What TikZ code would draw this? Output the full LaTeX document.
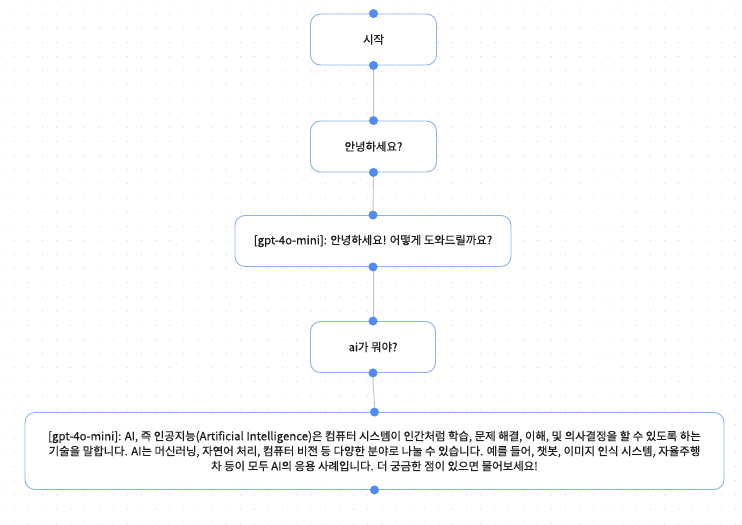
\documentclass[tikz,border=0pt]{standalone}
\usepackage{fontspec}
\setmainfont{Noto Sans CJK KR}[FakeBold=0.35]
\definecolor{boxblue}{HTML}{8AB0F7}
\definecolor{handleblue}{HTML}{4F8BF2}
\definecolor{edgegray}{HTML}{C4C4C4}
\definecolor{dotgray}{HTML}{D4D4D4}
\definecolor{txt}{HTML}{1E1E1E}
\begin{document}
\begin{tikzpicture}[x=1pt,y=-1pt,
  flowbox/.style={draw=boxblue, line width=0.9pt, rounded corners=10pt, fill=white,
    minimum height=51pt, align=center, inner sep=0pt, text=txt,
    font=\fontsize{11.4}{15}\selectfont},
  handle/.style={circle, fill=handleblue, inner sep=0pt, minimum size=9pt},
  edge/.style={draw=edgegray, line width=0.9pt}]
\useasboundingbox[fill=white] (0,0) rectangle (742,525);
\foreach \i in {0,...,52}{
  \foreach \j in {0,...,37}{
    \fill[dotgray] (\i*14.14,\j*14.14) circle (0.6pt);
  }
}
\node[flowbox, minimum width=126pt] (n1) at (373.5,39.5) {시작};
\node[flowbox, minimum width=126pt] (n2) at (373.5,146.5) {안녕하세요?};
\node[flowbox, minimum width=276pt] (n3) at (373,241) {[gpt-4o-mini]: 안녕하세요! 어떻게 도와드릴까요?};
\node[flowbox, minimum width=125pt] (n4) at (373,347) {ai가 뭐야?};
\node[flowbox, minimum width=699pt, minimum height=77pt] (n5) at (374.5,451)
  {[gpt-4o-mini]: AI, 즉 인공지능(Artificial Intelligence)은 컴퓨터 시스템이 인간처럼 학습, 문제 해결, 이해, 및 의사결정을 할 수 있도록 하는\\
   기술을 말합니다. AI는 머신러닝, 자연어 처리, 컴퓨터 비전 등 다양한 분야로 나눌 수 있습니다. 예를 들어, 챗봇, 이미지 인식 시스템, 자율주행\\
   차 등이 모두 AI의 응용 사례입니다. 더 궁금한 점이 있으면 물어보세요!};
\draw[edge] (n1.south) -- (n2.north);
\draw[edge] (n2.south) -- (n3.north);
\draw[edge] (n3.south) -- (n4.north);
\draw[edge] (n4.south) .. controls (373,395) and (374.5,392) .. (n5.north);
\foreach \n in {n1,n2,n3,n4,n5}{
  \node[handle] (\n t) at (\n.north) {};
  \node[handle] (\n b) at (\n.south) {};
}
\end{tikzpicture}
\end{document}
